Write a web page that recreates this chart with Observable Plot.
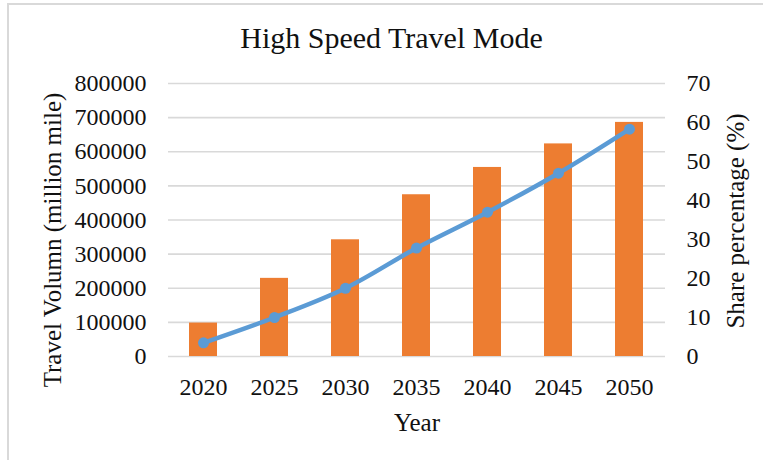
<!DOCTYPE html>
<html>
<head>
<meta charset="utf-8">
<script src="https://cdn.jsdelivr.net/npm/d3@7"></script>
<script src="https://cdn.jsdelivr.net/npm/@observablehq/plot@0.6"></script>
<style>
  html, body { margin: 0; padding: 0; background: #fff; }
  #wrap { position: relative; width: 763px; height: 460px; overflow: hidden; font-family: "Liberation Serif", "Times New Roman", serif; }
  #frame { position: absolute; left: 7px; top: 3px; width: 800px; height: 500px; border-left: 2px solid #d9d9d9; border-top: 2px solid #d9d9d9; box-sizing: border-box; pointer-events: none; }
  #title { position: relative; box-sizing: border-box; height: 60px; padding-top: 23px; line-height: 30px; font-size: 30px; text-align: center; color: #111; padding-left: 20px; }
  #chart svg { display: block; overflow: visible; }
  #chart svg text { font-family: "Liberation Serif", "Times New Roman", serif !important; }
</style>
</head>
<body>
<div id="wrap">
  <div id="frame"></div>
  <div id="title">High Speed Travel Mode</div>
  <div id="chart"></div>
</div>
<script>
const years = ["2020", "2025", "2030", "2035", "2040", "2045", "2050"];
const volume = [98000, 229000, 342000, 474000, 554000, 623000, 686000];
const share = [3.5, 10, 17.5, 27.8, 37, 47, 58.3];
const volumeTicks = [0, 100000, 200000, 300000, 400000, 500000, 600000, 700000, 800000];
const shareTicks = [0, 10, 20, 30, 40, 50, 60, 70];
const yLabel = "Travel Volumn (million mile)";
const y2Label = "Share percentage (%)";
const xLabel = "Year";

const k = 800000 / 70;
const rows = years.map((y, i) => ({year: y, volume: volume[i], share: share[i]}));
const font = "Liberation Serif, Times New Roman, serif";

const chart = Plot.plot({
  width: 763,
  height: 400,
  marginTop: 23,
  marginBottom: 104,
  marginLeft: 168,
  marginRight: 98,
  style: {fontFamily: font, fontSize: "24px", color: "#111", background: "transparent"},
  x: {type: "band", domain: years, paddingInner: 0.6, paddingOuter: 0.3},
  y: {domain: [0, 800000]},
  marks: [
    Plot.gridY(volumeTicks, {stroke: "#d9d9d9", strokeOpacity: 1, strokeWidth: 1.6}),
    Plot.barY(rows, {x: "year", y: "volume", fill: "#ED7D31"}),
    Plot.line(rows, {x: "year", y: d => d.share * k, stroke: "#5B9BD5", strokeWidth: 4.5, curve: "catmull-rom"}),
    Plot.dot(rows, {x: "year", y: d => d.share * k, r: 5.5, fill: "#5B9BD5"}),
    Plot.axisY(volumeTicks, {anchor: "left", tickSize: 0, tickPadding: 22, tickFormat: d => String(d), label: null, fontSize: 24, fontFamily: font}),
    Plot.axisY(shareTicks.map(d => d * k), {anchor: "right", tickSize: 0, tickPadding: 21, tickFormat: d => String(Math.round(d / k)), label: null, fontSize: 24, fontFamily: font}),
    Plot.axisX({tickSize: 0, tickPadding: 21, label: null, fontSize: 24, fontFamily: font}),
    Plot.text([xLabel], {frameAnchor: "bottom", textAnchor: "middle", lineAnchor: "middle", dy: 66, fontSize: 25, fill: "#111", fontFamily: font}),
    Plot.text([yLabel], {frameAnchor: "left", textAnchor: "middle", lineAnchor: "middle", dx: -116, dy: 20, rotate: -90, fontSize: 25, fill: "#111", fontFamily: font}),
    Plot.text([y2Label], {frameAnchor: "right", textAnchor: "middle", lineAnchor: "middle", dx: 70, dy: 1, rotate: -90, fontSize: 25, fill: "#111", fontFamily: font})
  ]
});
document.getElementById("chart").appendChild(chart);
</script>
</body>
</html>
